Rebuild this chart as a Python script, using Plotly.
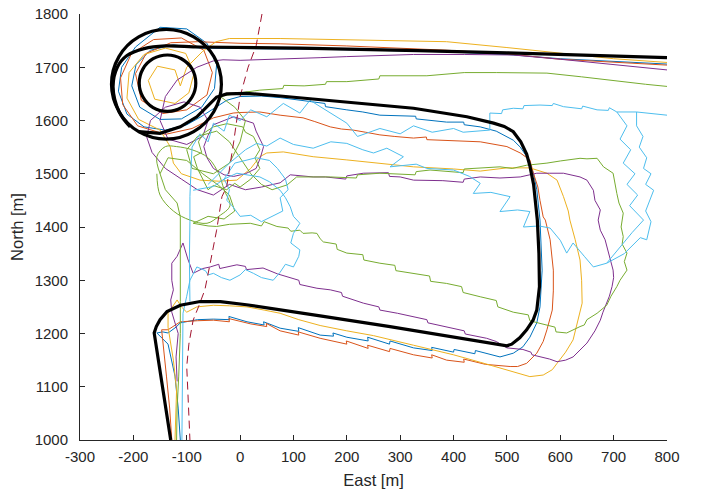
import plotly.graph_objects as go

# ---------------- data (East [m], North [m]) ----------------
BLACK_MAIN = [(-130,1000),(-145,1100),(-161,1201),(-157,1213),(-150,1226),(-137,1241),(-112,1253),(-75,1260),(-37,1260),(12,1254),(75,1245),(150,1233),(281,1213),(400,1193),(487,1178),(500,1177),(509,1180),(524,1192),(537,1207),(549,1225),(556,1244),(561,1288),(560,1350),(557,1413),(550,1480),(543,1515),(537,1537),(526,1560),(512,1579),(495,1589),(475,1595),(425,1607),(325,1623),(200,1635),(75,1646),(12,1651),(-25,1650),(-44,1644),(-62,1626),(-81,1607),(-112,1588),(-150,1576),(-190,1579)]
BLACK_BIG = [(-35,1668),(-49,1720),(-87,1757),(-138,1771),(-190,1757),(-227,1720),(-241,1668),(-227,1617),(-190,1579),(-138,1565),(-87,1579),(-49,1617),(-35,1668)]
BLACK_SMALL = [(-83,1670),(-90,1697),(-110,1716),(-136,1723),(-163,1716),(-182,1697),(-189,1670),(-182,1644),(-163,1624),(-136,1617),(-110,1624),(-90,1644),(-83,1670)]
BLACK_TOP = [(-206,1588),(-226,1615),(-238,1663),(-230,1700),(-212,1722),(-180,1735),(-140,1740),(-75,1738),(112,1736),(500,1727),(800,1718)]

BLUE = [(-112,1000),(-116,1060),(-122,1120),(-135,1180),(-156,1201),(-145,1203),(-135,1201),(-120,1212),(-112,1220),(-80,1226),(-50,1227),(-20,1226),(-21,1232),(13,1222),(45,1216),(44,1222),(75,1210),(110,1204),(109,1211),(150,1197),(175,1195),(174,1201),(200,1193),(240,1186),(239,1193),(280,1180),(281,1186),(325,1173),(360,1168),(359,1174),(400,1165),(401,1170),(440,1162),(441,1168),(487,1156),(512,1163),(530,1175),(543,1193),(556,1220),(562,1250),(566,1319),(564,1380),(562,1413),(556,1470),(550,1500),(538,1531),(525,1550),(512,1563),(480,1580),(450,1588),(420,1592),(419,1597),(387,1597),(330,1603),(329,1608),(262,1610),(230,1616),(200,1620),(160,1626),(159,1632),(112,1638),(75,1643),(40,1646),(0,1645),(-25,1638),(-50,1622),(-75,1606),(-100,1592),(-140,1582),(-180,1588),(-212,1612),(-228,1655),(-222,1700),(-196,1738),(-150,1775),(-100,1772),(-62,1745),(-44,1705),(-48,1660),(-72,1625),(-110,1603),(-150,1602),(-188,1625),(-203,1665),(-195,1705),(-168,1732),(-125,1742),(-75,1736),(0,1735),(75,1734),(200,1733),(387,1729),(500,1724),(600,1716),(700,1711),(800,1706)]

ORANGE = [(-128,1000),(-132,1060),(-138,1120),(-147,1207),(-135,1207),(-112,1222),(-80,1224),(-50,1225),(-20,1222),(-21,1228),(20,1218),(50,1213),(49,1219),(75,1205),(110,1197),(109,1203),(150,1191),(200,1180),(199,1186),(240,1172),(239,1178),(280,1166),(281,1172),(325,1160),(360,1154),(359,1160),(387,1150),(420,1146),(419,1152),(460,1142),(506,1138),(520,1138),(537,1144),(556,1163),(568,1185),(575,1207),(585,1244),(587,1280),(587,1319),(581,1376),(572,1413),(568,1419),(562,1450),(558,1475),(550,1500),(543,1526),(525,1539),(500,1551),(450,1560),(387,1563),(350,1564),(349,1569),(325,1567),(290,1570),(262,1573),(235,1578),(212,1582),(190,1584),(169,1588),(140,1598),(118,1605),(75,1610),(37,1616),(0,1615),(-13,1614),(-50,1605),(-90,1585),(-140,1574),(-192,1590),(-220,1630),(-224,1680),(-204,1725),(-162,1752),(-110,1755),(-68,1732),(-52,1690),(-62,1648),(-100,1620),(-145,1613),(-185,1638),(-196,1688),(-176,1726),(-130,1746),(-80,1748),(0,1745),(75,1744),(200,1740),(387,1732),(500,1725),(600,1715),(700,1709),(800,1704)]

YELLOW = [(-122,1000),(-120,1050),(-119,1094),(-125,1150),(-135,1212),(-135,1238),(-118,1263),(-110,1250),(-100,1240),(-81,1250),(-50,1253),(-20,1252),(13,1250),(45,1244),(75,1238),(110,1226),(150,1215),(200,1205),(250,1196),(325,1178),(360,1170),(400,1160),(450,1146),(500,1132),(543,1119),(568,1122),(585,1132),(594,1144),(610,1165),(624,1188),(632,1220),(641,1257),(640,1300),(637,1338),(628,1376),(618,1413),(615,1430),(606,1457),(594,1488),(575,1501),(543,1511),(500,1511),(450,1505),(400,1509),(325,1513),(262,1520),(200,1526),(137,1532),(81,1541),(50,1539),(37,1532),(20,1510),(-6,1488),(-40,1486),(-75,1488),(-110,1500),(-125,1520),(-131,1551),(-150,1582),(-190,1602),(-212,1642),(-208,1690),(-180,1724),(-140,1736),(-102,1726),(-86,1690),(-96,1652),(-122,1632),(-160,1640),(-172,1675),(-155,1702),(-122,1695),(-112,1665),(-100,1700),(-70,1730),(-45,1748),(-20,1754),(75,1754),(200,1752),(387,1748),(500,1737),(637,1723),(700,1716),(800,1709)]

PURPLE = [(-118,1110),(-120,1156),(-116,1200),(-128,1240),(-130,1263),(-125,1282),(-128,1300),(-128,1332),(-118,1345),(-107,1370),(-98,1340),(-88,1313),(-70,1322),(-56,1325),(-40,1330),(-38,1322),(-6,1329),(10,1326),(12,1320),(43,1323),(70,1312),(94,1304),(110,1300),(112,1292),(144,1285),(169,1282),(190,1277),(192,1270),(231,1257),(260,1250),(262,1244),(295,1238),(325,1231),(350,1226),(352,1220),(390,1212),(420,1205),(422,1199),(462,1191),(480,1185),(500,1173),(530,1170),(545,1165),(547,1160),(580,1152),(594,1147),(610,1150),(624,1156),(650,1182),(665,1205),(675,1225),(680,1240),(687,1257),(692,1270),(697,1288),(700,1305),(699,1319),(690,1351),(684,1376),(675,1394),(671,1413),(675,1432),(665,1450),(662,1469),(650,1488),(637,1494),(606,1501),(580,1501),(556,1501),(525,1494),(487,1492),(450,1494),(420,1490),(418,1484),(380,1487),(325,1488),(300,1494),(280,1495),(278,1502),(231,1501),(200,1496),(198,1490),(160,1494),(137,1494),(110,1496),(94,1498),(75,1483),(40,1475),(10,1470),(-20,1480),(-50,1460),(-80,1470),(-110,1490),(-140,1510),(-165,1540),(-175,1569),(-168,1600),(-140,1625),(-105,1635),(-75,1625),(-60,1600),(-70,1570),(-100,1555),(-135,1565),(-150,1600),(-140,1645),(-118,1676),(-81,1700),(-50,1712),(-32,1714),(0,1713),(75,1715),(150,1718),(200,1720),(250,1722),(325,1724),(420,1724),(512,1723),(600,1715),(700,1705),(800,1695)]
PURPLE_LOOP = [(-12,1607),(10,1600),(25,1595),(30,1580),(44,1551),(38,1530),(30,1510),(10,1500),(-12,1495),(-30,1498),(-50,1510),(-62,1530),(-68,1551),(-60,1572),(-50,1592),(-30,1600),(-12,1607)]

GREEN = [(-119,1000),(-118,1060),(-115,1120),(-112,1200),(-112,1260),(-112,1300),(-113,1360),(-112,1419),(-118,1445),(-140,1470),(-150,1500),(-135,1530),(-100,1525),(-70,1500),(-40,1478),(-20,1460),(-10,1430),(-30,1415),(-60,1420),(-88,1407),(-60,1402),(-44,1401),(-20,1405),(19,1407),(40,1402),(45,1410),(69,1401),(90,1398),(95,1392),(112,1394),(118,1388),(135,1389),(144,1388),(150,1378),(156,1372),(180,1368),(182,1358),(200,1351),(230,1348),(232,1338),(262,1332),(290,1328),(292,1318),(325,1313),(355,1308),(357,1298),(387,1294),(415,1288),(418,1277),(450,1269),(480,1262),(483,1250),(512,1240),(540,1235),(543,1224),(562,1219),(590,1212),(592,1203),(612,1201),(637,1213),(645,1216),(650,1226),(669,1238),(687,1253),(695,1270),(706,1288),(712,1300),(725,1319),(720,1335),(725,1351),(716,1368),(718,1382),(714,1400),(718,1426),(710,1445),(706,1463),(703,1480),(699,1501),(681,1513),(669,1529),(650,1528),(637,1529),(600,1524),(575,1520),(537,1516),(510,1510),(487,1513),(450,1511),(420,1509),(418,1502),(356,1507),(330,1504),(328,1498),(262,1501),(220,1498),(218,1492),(169,1494),(106,1494),(88,1479),(60,1470),(40,1480),(20,1500),(0,1530),(-20,1560),(-44,1580),(-80,1570),(-100,1545),(-90,1510),(-50,1500),(-20,1520),(0,1560),(10,1600),(-10,1625),(-37,1645),(0,1652),(37,1657),(80,1660),(82,1666),(120,1665),(160,1668),(162,1673),(200,1673),(260,1678),(262,1684),(350,1684),(420,1690),(481,1690),(575,1689),(640,1682),(712,1673),(760,1668),(800,1664)]
GREEN_LOOP = [(-150,1500),(-156,1532),(-140,1551),(-119,1551),(-90,1545),(-60,1530),(-40,1500),(-30,1470),(-19,1440),(-40,1420),(-62,1407),(-94,1413),(-125,1430),(-150,1460),(-156,1500)]
GREEN_LOOP2 = [(-25,1594),(5,1588),(10,1578),(25,1570),(37,1545),(28,1530),(37,1510),(20,1490),(0,1475),(-10,1482),(-25,1470),(-50,1478),(-60,1470),(-80,1510),(-87,1532),(-72,1540),(-78,1560),(-70,1575),(-50,1588),(-25,1594)]

LBLUE_A = [(-109,1000),(-108,1080),(-107,1160),(-107,1238),(-100,1270),(-94,1300),(-81,1325),(-65,1318),(-60,1310),(-50,1313),(-35,1305),(-19,1300),(0,1310),(10,1320),(25,1313),(40,1305),(62,1300),(75,1315),(85,1330),(100,1325),(110,1345),(112,1357),(95,1370),(100,1388),(112,1407),(100,1420),(94,1438),(85,1455),(75,1469),(55,1485),(37,1494),(-6,1501),(-30,1490),(-50,1476),(-88,1469)]
LBLUE_B = [(-94,1260),(-95,1340),(-94,1410),(-94,1457),(-92,1510),(-90,1550),(-75,1575),(-60,1560),(-50,1595),(-30,1580),(-20,1610),(0,1600),(20,1620),(50,1607),(81,1632),(112,1614),(131,1638),(169,1614),(200,1595),(220,1570),(262,1585),(300,1575),(325,1590),(360,1578),(400,1585),(418,1578),(468,1582),(468,1614),(490,1613),(492,1620),(512,1623),(530,1622),(532,1628),(562,1629),(585,1628),(587,1632),(606,1626),(640,1622),(642,1627),(669,1620),(690,1619),(692,1624),(706,1616),(743,1616),(770,1613),(800,1610)]
LBLUE_C = [(-60,1480),(-20,1520),(10,1545),(31,1557),(50,1552),(75,1567),(100,1555),(137,1548),(170,1560),(200,1557),(230,1545),(250,1539),(275,1548),(306,1532),(281,1513),(330,1518),(350,1510),(400,1507),(430,1495),(450,1482),(437,1463),(470,1465),(506,1457),(487,1429),(520,1432),(543,1429),(531,1400),(560,1402),(581,1398),(600,1375),(612,1351),(624,1370),(645,1345),(662,1325),(687,1332),(710,1360),(735,1390),(756,1413),(730,1440),(745,1460),(725,1480),(740,1500),(718,1520),(732,1545),(712,1565),(725,1590),(706,1616)]
LBLUE_D = [(687,1332),(720,1350),(750,1380),(762,1376),(770,1410),(760,1430),(775,1469),(760,1480),(770,1500),(756,1510),(762,1530),(748,1550),(755,1570),(743,1590),(743,1616)]
LBLUE_LOOP = [(30,1530),(55,1525),(70,1510),(85,1490),(90,1470),(75,1455),(80,1430),(60,1420),(40,1410),(20,1422),(0,1420),(-15,1440),(-25,1450),(-20,1470),(-30,1490),(-10,1520),(30,1530)]

DARKRED = [(41,1800),(30,1740),(15,1700),(0,1645),(-12,1560),(-25,1476),(-34,1457),(-44,1394),(-56,1332),(-66,1282),(-78,1250),(-88,1225),(-96,1180),(-100,1138),(-97,1070),(-94,1000)]

X_TICKS = [-300,-200,-100,0,100,200,300,400,500,600,700,800]
Y_TICKS = [1000,1100,1200,1300,1400,1500,1600,1700,1800]

# ---------------- figure ----------------
fig = go.Figure()

def add(path, color, width=1.0, dash=None, shape="linear"):
    xs = [p[0] for p in path]
    ys = [p[1] for p in path]
    fig.add_trace(go.Scatter(x=xs, y=ys, mode="lines",
                             line=dict(color=color, width=width, dash=dash, shape=shape),
                             showlegend=False, hoverinfo="skip"))

add(BLUE, "#0072BD")
add(ORANGE, "#D95319")
add(YELLOW, "#EDB120")
add(PURPLE, "#7E2F8E")
add(PURPLE_LOOP, "#7E2F8E")
add(GREEN, "#77AC30")
add(GREEN_LOOP, "#77AC30", shape="spline")
add(GREEN_LOOP2, "#77AC30")
add(LBLUE_A, "#4DBEEE")
add(LBLUE_B, "#4DBEEE")
add(LBLUE_C, "#4DBEEE")
add(LBLUE_D, "#4DBEEE")
add(LBLUE_LOOP, "#4DBEEE")
add(DARKRED, "#A2142F", dash="8px,5px")
add(BLACK_MAIN, "#000000", width=3.2)
add(BLACK_BIG, "#000000", width=3.2, shape="spline")
add(BLACK_SMALL, "#000000", width=3.2, shape="spline")
add(BLACK_TOP, "#000000", width=3.2, shape="spline")

FONT = "Liberation Sans, Arial, sans-serif"
axis_common = dict(showgrid=False, zeroline=False, showline=True, linecolor="#262626",
                   linewidth=1, ticks="inside", ticklen=5, tickcolor="#262626",
                   tickfont=dict(family=FONT, size=15, color="#262626"),
                   mirror=False, automargin=False)
fig.update_xaxes(range=[-300, 800], tickvals=X_TICKS, ticktext=[str(v) for v in X_TICKS],
                 ticklabelstandoff=3,
                 title=dict(text="East [m]", font=dict(family=FONT, size=16.5, color="#262626"), standoff=10),
                 **axis_common)
fig.update_yaxes(range=[1000, 1800], tickvals=Y_TICKS, ticktext=[str(v) for v in Y_TICKS],
                 ticklabelstandoff=8,
                 title=dict(text="North [m]", font=dict(family=FONT, size=16.5, color="#262626"), standoff=6),
                 **axis_common)
fig.update_layout(width=704, height=492, margin=dict(l=80, r=37, t=14, b=52),
                  plot_bgcolor="white", paper_bgcolor="white", showlegend=False)
fig.write_html("out.html", config={"displayModeBar": False})

# remove the default page margin so the figure sits at the window's top-left corner
with open("out.html", "r", encoding="utf-8") as f:
    html = f.read()
html = html.replace("<head>", "<head><style>html,body{margin:0;padding:0;overflow:hidden;}</style>", 1)
with open("out.html", "w", encoding="utf-8") as f:
    f.write(html)
